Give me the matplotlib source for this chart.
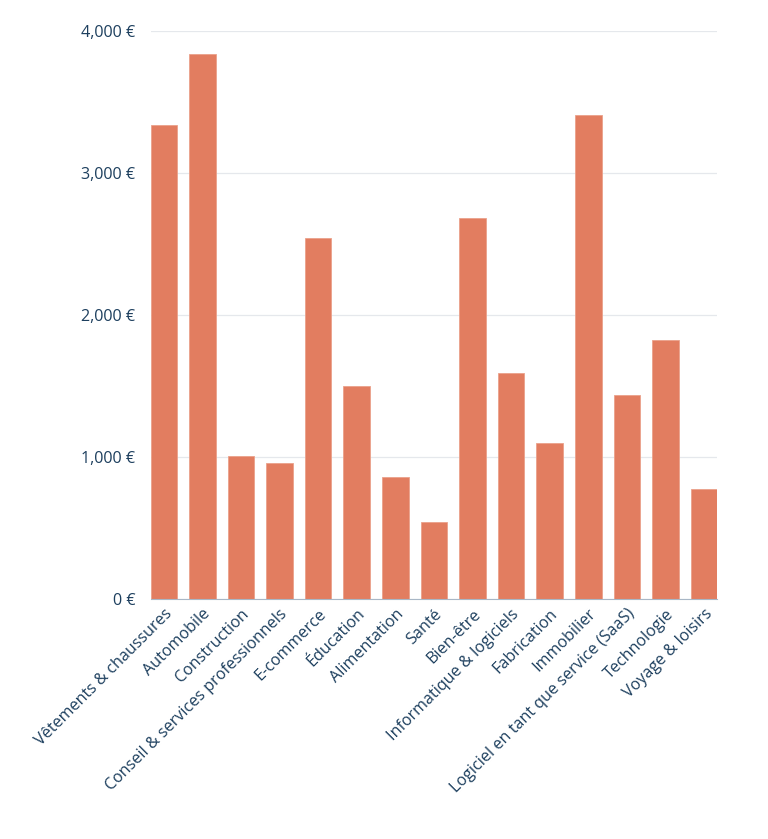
import matplotlib
matplotlib.use("Agg")
import matplotlib.pyplot as plt
from matplotlib.ticker import FuncFormatter

categories = ["Vêtements & chaussures", "Automobile", "Construction",
              "Conseil & services professionnels", "E-commerce", "Éducation",
              "Alimentation", "Santé", "Bien-être", "Informatique & logiciels",
              "Fabrication", "Immobilier", "Logiciel en tant que service (SaaS)",
              "Technologie", "Voyage & loisirs"]
values = [3335, 3835, 1005, 955, 2540, 1500, 862, 542, 2680, 1595,
          1100, 3410, 1440, 1826, 776]
yticks = [0, 1000, 2000, 3000, 4000]

text_color = "#1d3f5e"
bar_color = "#e27d60"

plt.rcParams['font.family'] = ['Open Sans', 'DejaVu Sans']

fig = plt.figure(figsize=(7.68, 8.39), dpi=100)
ax = fig.add_axes([0.196, 0.286, 0.738, 0.677])

x = list(range(len(categories)))
ax.bar(x, values, width=0.69, color=bar_color, edgecolor="#eba18a", linewidth=0.6, zorder=3)

ax.set_xlim(-0.345, len(categories) - 1 + 0.345)
ax.set_ylim(0, 4000)
ax.set_yticks(yticks)
ax.yaxis.set_major_formatter(FuncFormatter(lambda v, p: f"{int(v):,} €"))
ax.grid(axis="y", color="#e5e8ec", linewidth=0.9, zorder=0)

ax.set_xticks(x)
ax.set_xticklabels(categories, rotation=45, ha="right", va="top", rotation_mode="anchor")
for s in ["top", "right", "left"]:
    ax.spines[s].set_visible(False)
ax.spines["bottom"].set_color("#a9b7c6")
ax.spines["bottom"].set_zorder(4)
ax.tick_params(axis="both", length=0, colors=text_color, labelsize=11.6)
ax.tick_params(axis="x", pad=5)
ax.tick_params(axis="y", pad=11)
for lbl in ax.get_xticklabels() + ax.get_yticklabels():
    lbl.set_fontweight("medium")

fig.savefig("out.png", dpi=100)
